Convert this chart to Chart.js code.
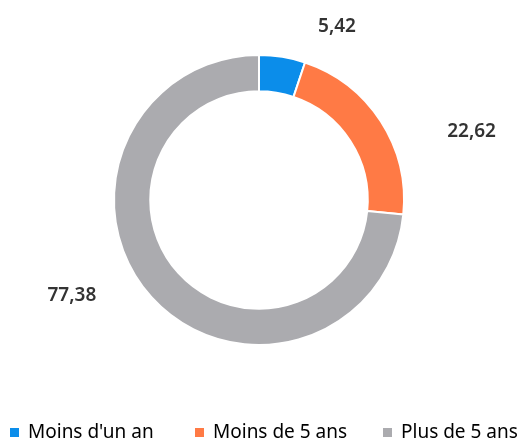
<!DOCTYPE html>
<html>
<head>
    <meta charset="UTF-8">
    <title>Ancienneté</title>
    <script src="https://cdn.jsdelivr.net/npm/chart.js"></script>
    <style>
        html, body { margin: 0; padding: 0; background: #fff; }
        .wrap { position: relative; width: 523px; height: 443px; }
        #legend {
            position: absolute; left: 0; top: 419px; width: 523px; height: 24px;
            font-family: "Noto Sans", sans-serif; font-size: 19px; color: #000;
        }
        #legend span { position: absolute; top: 0; white-space: nowrap; line-height: 24px; }
        #legend i { display: inline-block; width: 9px; height: 9px; margin-right: 9px; vertical-align: 1px; }
    </style>
</head>
<body>
    <div class="wrap">
        <canvas id="donut" width="523" height="443"></canvas>
        <div id="legend"></div>
    </div>
    <script>
        // données
        const categories = ["Moins d'un an", "Moins de 5 ans", "Plus de 5 ans"];
        const values = [5.42, 22.62, 77.38];
        const valueLabels = ['5,42', '22,62', '77,38'];
        const colors = ['#0B8DEA', '#FF7A45', '#ABABAF'];

        // étiquettes placées hors de l'anneau
        const outsideLabels = {
            id: 'outsideLabels',
            afterDatasetsDraw(chart, args, opts) {
                const ctx = chart.ctx;
                const meta = chart.getDatasetMeta(0);
                ctx.save();
                ctx.font = '600 19px "Noto Sans", sans-serif';
                ctx.fillStyle = '#333';
                ctx.textAlign = 'center';
                ctx.textBaseline = 'middle';
                meta.data.forEach((arc, i) => {
                    const p = arc.getProps(['x', 'y', 'startAngle', 'endAngle', 'outerRadius'], true);
                    const a = (p.startAngle + p.endAngle) / 2 + opts.shift * Math.PI / 180;
                    const r = p.outerRadius * opts.dist[i];
                    ctx.fillText(valueLabels[i], p.x + Math.cos(a) * r, p.y + Math.sin(a) * r);
                });
                ctx.restore();
            }
        };

        new Chart(document.getElementById('donut'), {
            type: 'doughnut',
            data: {
                labels: categories,
                datasets: [{
                    data: values,
                    backgroundColor: colors,
                    borderColor: '#fff',
                    borderWidth: 2
                }]
            },
            options: {
                responsive: false,
                animation: false,
                cutout: '75%',
                layout: { padding: { top: 53, bottom: 96, left: 113, right: 118 } },
                plugins: {
                    legend: { display: false },
                    tooltip: { enabled: false },
                    outsideLabels: { shift: 15, dist: [1.31, 1.54, 1.45] }
                }
            },
            plugins: [outsideLabels]
        });

        // légende
        const legendLeft = [10, 195, 383];
        const legend = document.getElementById('legend');
        categories.forEach((c, i) => {
            const s = document.createElement('span');
            s.style.left = legendLeft[i] + 'px';
            const box = document.createElement('i');
            box.style.background = colors[i];
            s.appendChild(box);
            s.appendChild(document.createTextNode(c));
            legend.appendChild(s);
        });
    </script>
</body>
</html>
